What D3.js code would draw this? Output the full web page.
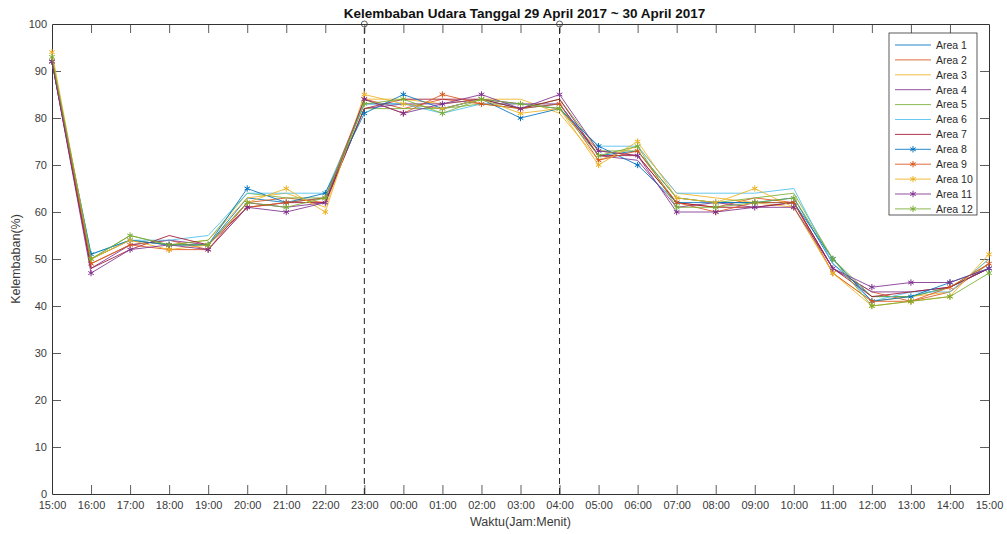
<!DOCTYPE html>
<html>
<head>
<meta charset="utf-8">
<script src="https://cdn.jsdelivr.net/npm/d3@7"></script>
<style>
  body { margin: 0; background: #fff; }
  svg { font-family: "Liberation Sans", Arial, sans-serif; }
</style>
</head>
<body>
<svg id="chart" width="1007" height="534"></svg>
<script>
// Hourly time labels, 15:00 on 29 April to 15:00 on 30 April
const timeLabels = ["15:00","16:00","17:00","18:00","19:00","20:00","21:00","22:00","23:00",
  "00:00","01:00","02:00","03:00","04:00","05:00","06:00","07:00","08:00","09:00","10:00",
  "11:00","12:00","13:00","14:00","15:00"];

const seriesNames = ["Area 1","Area 2","Area 3","Area 4","Area 5","Area 6",
  "Area 7","Area 8","Area 9","Area 10","Area 11","Area 12"];

// Relative humidity (%) per area
const area1  = [92,50,54,53,53,63,62,63,83,83,82,84,82,83,72,73,63,62,62,63,49,42,42,44,48];
const area2  = [92,49,53,54,52,62,63,62,84,82,84,83,83,82,73,72,62,61,63,62,48,43,41,43,49];
const area3  = [93,50,54,53,54,63,64,61,84,84,83,84,84,81,71,74,64,63,62,61,47,41,42,43,50];
const area4  = [92,48,53,54,53,62,61,62,82,83,83,84,83,83,72,71,61,62,61,62,48,43,43,44,48];
const area5  = [92,50,55,53,54,64,63,63,82,82,82,83,82,84,73,73,63,62,63,64,50,42,42,44,49];
const area6  = [92,51,54,54,55,64,64,64,83,83,81,83,83,82,74,74,64,64,64,65,49,41,43,43,50];
const area7  = [92,48,52,55,53,61,62,62,82,84,84,84,82,84,72,72,62,61,61,62,48,42,43,44,48];
const area8  = [92,51,54,53,53,65,62,64,81,85,82,84,80,82,74,70,62,62,62,62,50,41,42,45,48];
const area9  = [92,49,53,52,52,61,62,63,84,81,85,83,82,83,71,73,62,60,62,62,47,41,41,44,49];
const area10 = [94,50,54,52,53,62,65,60,85,83,82,84,81,82,70,75,63,62,65,61,47,40,41,42,51];
const area11 = [92,47,52,53,52,61,60,62,84,81,83,85,82,85,73,72,60,60,61,61,48,44,45,45,48];
const area12 = [93,50,55,53,53,62,61,63,83,84,81,84,83,82,72,74,61,61,62,63,50,40,41,42,47];

const allSeries = [area1,area2,area3,area4,area5,area6,area7,area8,area9,area10,area11,area12];
const hasMarker = [false,false,false,false,false,false,false,true,true,true,true,true];

const yTicks = [0,10,20,30,40,50,60,70,80,90,100];
// Time indices of the dashed reference lines (23:00 and 04:00)
const markerLineIdx = [8, 13];

const palette = ["#0072BD","#D95319","#EDB120","#7E2F8E","#77AC30","#4DBEEE","#A2142F"];

const svg = d3.select("#chart");
const margin = {left: 52, right: 1007 - 989, top: 24, bottom: 534 - 494};
const W = 1007, H = 534;
const plotW = W - margin.left - margin.right;
const plotH = H - margin.top - margin.bottom;

const x = d3.scaleLinear().domain([0, timeLabels.length - 1]).range([margin.left, margin.left + plotW]);
const y = d3.scaleLinear().domain([0, 100]).range([margin.top + plotH, margin.top]);

const axisColor = "#333";
const tickLen = 9;

// Axes (ticks pointing inward, boxed)
const gx = svg.append("g").attr("transform", `translate(0,${margin.top + plotH})`)
  .call(d3.axisBottom(x).tickValues(d3.range(timeLabels.length))
    .tickFormat(i => timeLabels[i]).tickSizeInner(-tickLen).tickSizeOuter(0).tickPadding(7));
const gxt = svg.append("g").attr("transform", `translate(0,${margin.top})`)
  .call(d3.axisTop(x).tickValues(d3.range(timeLabels.length))
    .tickFormat("").tickSizeInner(-tickLen).tickSizeOuter(0));
const gy = svg.append("g").attr("transform", `translate(${margin.left},0)`)
  .call(d3.axisLeft(y).tickValues(yTicks).tickSizeInner(-tickLen).tickSizeOuter(0).tickPadding(5));
const gyr = svg.append("g").attr("transform", `translate(${margin.left + plotW},0)`)
  .call(d3.axisRight(y).tickValues(yTicks).tickFormat("").tickSizeInner(-tickLen).tickSizeOuter(0));

[gx, gxt, gy, gyr].forEach(g => {
  g.selectAll("path.domain").attr("stroke", axisColor).attr("stroke-width", 1);
  g.selectAll(".tick line").attr("stroke", axisColor).attr("stroke-width", 0.8);
  g.selectAll(".tick text").attr("fill", "#3a3a3a").style("font-size", "11px");
});
// Hide the tick marks at the very ends to keep corners clean
gx.selectAll(".tick").filter(i => i === 0 || i === timeLabels.length - 1).select("line").remove();
gxt.selectAll(".tick").filter(i => i === 0 || i === timeLabels.length - 1).select("line").remove();
gy.selectAll(".tick").filter(v => v === 0 || v === 100).select("line").remove();
gyr.selectAll(".tick").filter(v => v === 0 || v === 100).select("line").remove();

// Dashed reference lines
markerLineIdx.forEach(i => {
  svg.append("line")
    .attr("x1", x(i)).attr("x2", x(i))
    .attr("y1", y(0)).attr("y2", y(100))
    .attr("stroke", "#222").attr("stroke-width", 1)
    .attr("stroke-dasharray", "6,4");
  svg.append("circle").attr("cx", x(i)).attr("cy", y(100)).attr("r", 3)
    .attr("fill", "none").attr("stroke", "#333").attr("stroke-width", 0.8);
});

// Series lines
const line = d3.line().x((d, i) => x(i)).y(d => y(d));
const marker = d3.symbol().type(d3.symbolAsterisk).size(28);

allSeries.forEach((vals, s) => {
  const color = palette[s % palette.length];
  svg.append("path").datum(vals)
    .attr("d", line)
    .attr("fill", "none")
    .attr("stroke", color)
    .attr("stroke-width", 0.85)
    .attr("stroke-linejoin", "round");
  if (hasMarker[s]) {
    svg.append("g").selectAll("path").data(vals).join("path")
      .attr("transform", (d, i) => `translate(${x(i)},${y(d)})`)
      .attr("d", marker)
      .attr("fill", "none")
      .attr("stroke", color)
      .attr("stroke-width", 1);
  }
});

// Legend
const lg = svg.append("g").attr("transform", "translate(889,33)");
const rowH = 14.9;
lg.append("rect").attr("x", 0).attr("y", 0).attr("width", 88).attr("height", 182)
  .attr("fill", "#fff").attr("stroke", axisColor).attr("stroke-width", 0.8);
seriesNames.forEach((name, s) => {
  const color = palette[s % palette.length];
  const cy = 12 + s * rowH;
  lg.append("line").attr("x1", 6).attr("x2", 42).attr("y1", cy).attr("y2", cy)
    .attr("stroke", color).attr("stroke-width", 0.85);
  if (hasMarker[s]) {
    lg.append("path").attr("transform", `translate(24,${cy})`).attr("d", marker)
      .attr("fill", "none").attr("stroke", color).attr("stroke-width", 1);
  }
  lg.append("text").attr("x", 47).attr("y", cy + 3.8).text(name)
    .style("font-size", "10.5px").attr("fill", "#2a2a2a");
});

// Title and axis labels
svg.append("text").attr("x", margin.left + plotW / 2 + 4).attr("y", 18)
  .attr("text-anchor", "middle").style("font-size", "13.5px").style("font-weight", "bold")
  .attr("fill", "#111").text("Kelembaban Udara Tanggal 29 April 2017 ~ 30 April 2017");
svg.append("text").attr("x", margin.left + plotW / 2).attr("y", 526)
  .attr("text-anchor", "middle").style("font-size", "12.5px").attr("fill", "#3a3a3a")
  .text("Waktu(Jam:Menit)");
svg.append("text").attr("transform", `translate(20,${margin.top + plotH / 2}) rotate(-90)`)
  .attr("text-anchor", "middle").style("font-size", "12.5px").attr("fill", "#3a3a3a")
  .text("Kelembaban(%)");
</script>
</body>
</html>
